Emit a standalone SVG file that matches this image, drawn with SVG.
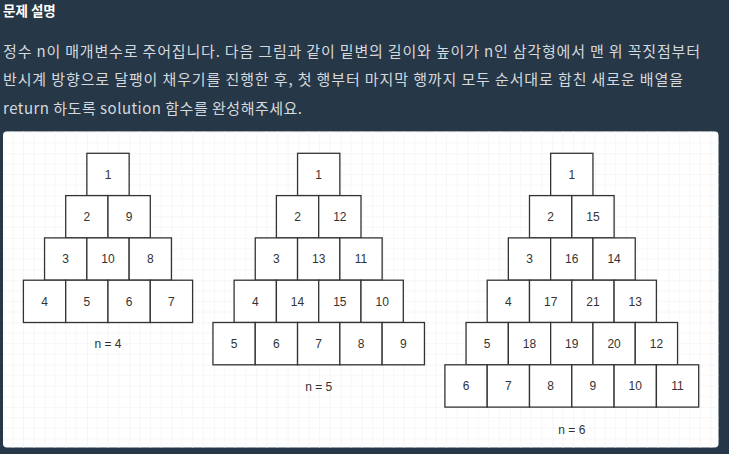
<svg xmlns="http://www.w3.org/2000/svg" width="729" height="454" viewBox="0 0 729 454">
<style>
.bg{fill:#263747}
.h{font-family:"Noto Sans CJK KR","Noto Sans",sans-serif;font-weight:700;font-size:13.5px;fill:#ffffff}
.p{font-family:"Noto Sans CJK KR","Noto Sans",sans-serif;font-size:15px;fill:#d5d9de}
.b rect{fill:#ffffff;stroke:#333333;stroke-width:1.3}
.b text,.lbl{font-family:"Liberation Sans",Arial,sans-serif;font-size:12px;fill:#333333;text-anchor:middle}
</style>
<defs>
<pattern id="grid" patternUnits="userSpaceOnUse" x="2.4" y="26.4" width="42.3" height="42.3">
<path d="M10.575 0V42.3M21.15 0V42.3M31.725 0V42.3M0 10.575H42.3M0 21.15H42.3M0 31.725H42.3" stroke="#f6f6f7" stroke-width="1" fill="none"/>
<path d="M0 0V42.3M0 0H42.3" stroke="#eeeeef" stroke-width="1" fill="none"/>
</pattern>
</defs>
<rect class="bg" x="0" y="0" width="729" height="454"/>
<g id="text-header">
<text class="h" x="3" y="16">문제 설명</text>
<text class="p" x="3" y="56.5" textLength="697" lengthAdjust="spacing">정수 n이 매개변수로 주어집니다. 다음 그림과 같이 밑변의 길이와 높이가 n인 삼각형에서 맨 위 꼭짓점부터</text>
<text class="p" x="3" y="85" textLength="680" lengthAdjust="spacing">반시계 방향으로 달팽이 채우기를 진행한 후, 첫 행부터 마지막 행까지 모두 순서대로 합친 새로운 배열을</text>
<text class="p" x="3" y="113.5" textLength="299" lengthAdjust="spacing">return 하도록 solution 함수를 완성해주세요.</text>
</g>
<g id="panel">
<rect x="3" y="131.5" width="715.5" height="316" rx="4" fill="#ffffff"/>
<rect x="3" y="131.5" width="715.5" height="316" rx="4" fill="url(#grid)"/>
</g>
<g id="connectors"/>
<g id="tri-n4">
<g id="n4-1" class="b" transform="translate(86.85,153.3)"><rect width="42.3" height="42.3"/><text x="21.15" y="25.4">1</text></g>
<g id="n4-2" class="b" transform="translate(65.7,195.6)"><rect width="42.3" height="42.3"/><text x="21.15" y="25.4">2</text></g>
<g id="n4-9" class="b" transform="translate(108,195.6)"><rect width="42.3" height="42.3"/><text x="21.15" y="25.4">9</text></g>
<g id="n4-3" class="b" transform="translate(44.55,237.9)"><rect width="42.3" height="42.3"/><text x="21.15" y="25.4">3</text></g>
<g id="n4-10" class="b" transform="translate(86.85,237.9)"><rect width="42.3" height="42.3"/><text x="21.15" y="25.4">10</text></g>
<g id="n4-8" class="b" transform="translate(129.15,237.9)"><rect width="42.3" height="42.3"/><text x="21.15" y="25.4">8</text></g>
<g id="n4-4" class="b" transform="translate(23.4,280.2)"><rect width="42.3" height="42.3"/><text x="21.15" y="25.4">4</text></g>
<g id="n4-5" class="b" transform="translate(65.7,280.2)"><rect width="42.3" height="42.3"/><text x="21.15" y="25.4">5</text></g>
<g id="n4-6" class="b" transform="translate(108,280.2)"><rect width="42.3" height="42.3"/><text x="21.15" y="25.4">6</text></g>
<g id="n4-7" class="b" transform="translate(150.3,280.2)"><rect width="42.3" height="42.3"/><text x="21.15" y="25.4">7</text></g>
<text id="label-n4" class="lbl" x="108" y="348.3">n = 4</text>
</g>
<g id="tri-n5">
<g id="n5-1" class="b" transform="translate(297.55,153.3)"><rect width="42.3" height="42.3"/><text x="21.15" y="25.4">1</text></g>
<g id="n5-2" class="b" transform="translate(276.4,195.6)"><rect width="42.3" height="42.3"/><text x="21.15" y="25.4">2</text></g>
<g id="n5-12" class="b" transform="translate(318.7,195.6)"><rect width="42.3" height="42.3"/><text x="21.15" y="25.4">12</text></g>
<g id="n5-3" class="b" transform="translate(255.25,237.9)"><rect width="42.3" height="42.3"/><text x="21.15" y="25.4">3</text></g>
<g id="n5-13" class="b" transform="translate(297.55,237.9)"><rect width="42.3" height="42.3"/><text x="21.15" y="25.4">13</text></g>
<g id="n5-11" class="b" transform="translate(339.85,237.9)"><rect width="42.3" height="42.3"/><text x="21.15" y="25.4">11</text></g>
<g id="n5-4" class="b" transform="translate(234.1,280.2)"><rect width="42.3" height="42.3"/><text x="21.15" y="25.4">4</text></g>
<g id="n5-14" class="b" transform="translate(276.4,280.2)"><rect width="42.3" height="42.3"/><text x="21.15" y="25.4">14</text></g>
<g id="n5-15" class="b" transform="translate(318.7,280.2)"><rect width="42.3" height="42.3"/><text x="21.15" y="25.4">15</text></g>
<g id="n5-10" class="b" transform="translate(361,280.2)"><rect width="42.3" height="42.3"/><text x="21.15" y="25.4">10</text></g>
<g id="n5-5" class="b" transform="translate(212.95,322.5)"><rect width="42.3" height="42.3"/><text x="21.15" y="25.4">5</text></g>
<g id="n5-6" class="b" transform="translate(255.25,322.5)"><rect width="42.3" height="42.3"/><text x="21.15" y="25.4">6</text></g>
<g id="n5-7" class="b" transform="translate(297.55,322.5)"><rect width="42.3" height="42.3"/><text x="21.15" y="25.4">7</text></g>
<g id="n5-8" class="b" transform="translate(339.85,322.5)"><rect width="42.3" height="42.3"/><text x="21.15" y="25.4">8</text></g>
<g id="n5-9" class="b" transform="translate(382.15,322.5)"><rect width="42.3" height="42.3"/><text x="21.15" y="25.4">9</text></g>
<text id="label-n5" class="lbl" x="318.7" y="390.8">n = 5</text>
</g>
<g id="tri-n6">
<g id="n6-1" class="b" transform="translate(550.65,153.3)"><rect width="42.3" height="42.3"/><text x="21.15" y="25.4">1</text></g>
<g id="n6-2" class="b" transform="translate(529.5,195.6)"><rect width="42.3" height="42.3"/><text x="21.15" y="25.4">2</text></g>
<g id="n6-15" class="b" transform="translate(571.8,195.6)"><rect width="42.3" height="42.3"/><text x="21.15" y="25.4">15</text></g>
<g id="n6-3" class="b" transform="translate(508.35,237.9)"><rect width="42.3" height="42.3"/><text x="21.15" y="25.4">3</text></g>
<g id="n6-16" class="b" transform="translate(550.65,237.9)"><rect width="42.3" height="42.3"/><text x="21.15" y="25.4">16</text></g>
<g id="n6-14" class="b" transform="translate(592.95,237.9)"><rect width="42.3" height="42.3"/><text x="21.15" y="25.4">14</text></g>
<g id="n6-4" class="b" transform="translate(487.2,280.2)"><rect width="42.3" height="42.3"/><text x="21.15" y="25.4">4</text></g>
<g id="n6-17" class="b" transform="translate(529.5,280.2)"><rect width="42.3" height="42.3"/><text x="21.15" y="25.4">17</text></g>
<g id="n6-21" class="b" transform="translate(571.8,280.2)"><rect width="42.3" height="42.3"/><text x="21.15" y="25.4">21</text></g>
<g id="n6-13" class="b" transform="translate(614.1,280.2)"><rect width="42.3" height="42.3"/><text x="21.15" y="25.4">13</text></g>
<g id="n6-5" class="b" transform="translate(466.05,322.5)"><rect width="42.3" height="42.3"/><text x="21.15" y="25.4">5</text></g>
<g id="n6-18" class="b" transform="translate(508.35,322.5)"><rect width="42.3" height="42.3"/><text x="21.15" y="25.4">18</text></g>
<g id="n6-19" class="b" transform="translate(550.65,322.5)"><rect width="42.3" height="42.3"/><text x="21.15" y="25.4">19</text></g>
<g id="n6-20" class="b" transform="translate(592.95,322.5)"><rect width="42.3" height="42.3"/><text x="21.15" y="25.4">20</text></g>
<g id="n6-12" class="b" transform="translate(635.25,322.5)"><rect width="42.3" height="42.3"/><text x="21.15" y="25.4">12</text></g>
<g id="n6-6" class="b" transform="translate(444.9,364.8)"><rect width="42.3" height="42.3"/><text x="21.15" y="25.4">6</text></g>
<g id="n6-7" class="b" transform="translate(487.2,364.8)"><rect width="42.3" height="42.3"/><text x="21.15" y="25.4">7</text></g>
<g id="n6-8" class="b" transform="translate(529.5,364.8)"><rect width="42.3" height="42.3"/><text x="21.15" y="25.4">8</text></g>
<g id="n6-9" class="b" transform="translate(571.8,364.8)"><rect width="42.3" height="42.3"/><text x="21.15" y="25.4">9</text></g>
<g id="n6-10" class="b" transform="translate(614.1,364.8)"><rect width="42.3" height="42.3"/><text x="21.15" y="25.4">10</text></g>
<g id="n6-11" class="b" transform="translate(656.4,364.8)"><rect width="42.3" height="42.3"/><text x="21.15" y="25.4">11</text></g>
<text id="label-n6" class="lbl" x="571.8" y="433.5">n = 6</text>
</g>
</svg>
